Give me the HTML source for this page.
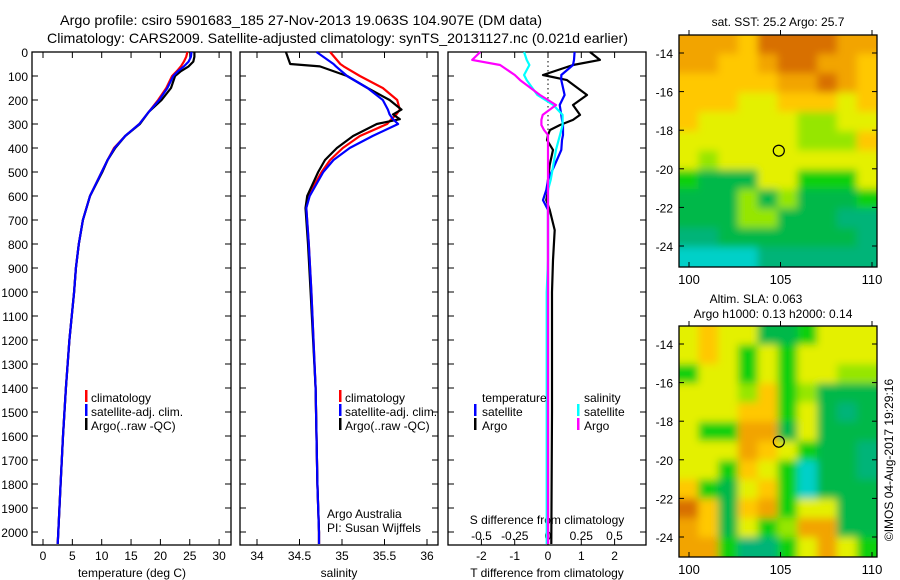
<!DOCTYPE html>
<html><head><meta charset="utf-8"><style>
body{margin:0;background:#fff;}
svg{display:block;font-family:"Liberation Sans",sans-serif;}
text{fill:#000;}
</style></head><body>
<svg id="fig" width="900" height="580" viewBox="0 0 900 580" xmlns="http://www.w3.org/2000/svg">
<defs><filter id="bl" x="-10%" y="-10%" width="120%" height="120%"><feGaussianBlur stdDeviation="4"/></filter>
<clipPath id="c1"><rect x="679" y="35" width="198" height="232"/></clipPath>
<clipPath id="c2"><rect x="679" y="326" width="198" height="231"/></clipPath></defs>
<text x="60" y="25" font-size="14" textLength="482" lengthAdjust="spacingAndGlyphs">Argo profile: csiro 5901683_185 27-Nov-2013 19.063S 104.907E (DM data)</text>
<text x="47" y="43" font-size="14" textLength="581" lengthAdjust="spacingAndGlyphs">Climatology: CARS2009. Satellite-adjusted climatology: synTS_20131127.nc (0.021d earlier)</text>
<g id="g"></g>
</svg>
<script>
// ---- data ----
const pT=[0,20,40,60,80,100,150,200,250,300,350,400,450,500,600,700,800,900,1000,1200,1400,1600,1800,2000,2050];
const tArgo=[25.8,25.8,25.6,24.8,23.5,22.5,21.8,20.2,18.0,16.5,14.0,12.3,11.0,10.1,8.0,6.8,6.1,5.6,5.3,4.5,3.9,3.4,3.0,2.6,2.5];
const tClim=[24.6,24.4,24.0,23.5,22.8,22.0,21.0,19.6,18.0,16.4,14.0,12.1,11.0,10.0,8.0,6.8,6.1,5.6,5.3,4.5,3.9,3.4,3.0,2.6,2.5];
const tSat=[25.3,25.2,24.8,24.0,23.0,22.2,21.2,19.8,18.0,16.4,14.0,12.2,11.0,10.0,8.0,6.8,6.1,5.6,5.3,4.5,3.9,3.4,3.0,2.6,2.5];
const pS=[0,50,60,100,150,200,240,260,280,300,350,400,450,500,600,650,800,1000,1400,1800,2000,2050];
const sArgo=[34.34,34.39,34.74,35.06,35.30,35.56,35.70,35.60,35.68,35.41,35.13,34.94,34.80,34.72,34.59,34.57,34.60,34.63,34.69,34.71,34.73,34.73];
const sClim=[34.86,34.98,35.02,35.21,35.48,35.65,35.68,35.64,35.58,35.53,35.21,35.01,34.86,34.76,34.60,34.58,34.61,34.64,34.69,34.71,34.73,34.73];
const sSat=[34.70,34.90,34.93,35.06,35.30,35.48,35.54,35.56,35.60,35.66,35.36,35.09,34.90,34.78,34.62,34.58,34.61,34.64,34.69,34.71,34.73,34.73];
const pD=[0,33,54,96,117,179,221,262,283,304,325,346,367,408,471,533,575,617,658,742,867,1000,1500,2050];
const dTArgo=[1.26,1.56,0.75,-0.15,0.57,1.17,0.75,0.96,0.75,0.36,0.06,0.0,-0.03,0.15,0.05,0.0,0.0,-0.05,0.05,0.2,0.15,0.12,0.12,0.1];
const dTSat=[0.8,0.78,0.75,0.4,0.4,0.5,0.35,0.4,0.42,0.45,0.45,0.45,0.42,0.4,0.2,0.0,-0.05,-0.15,0.0,0.0,0.0,0.0,0.0,0.0];
const dSArgo=[-0.51,-0.57,-0.36,-0.25,-0.21,-0.06,0.06,-0.04,-0.05,-0.05,-0.03,0.0,0.0,0.0,0.0,0.0,0.0,0.0,0.0,0.0,0.0,0.0,0.0,0.0];
const dSSat=[-0.18,-0.16,-0.14,-0.18,-0.16,-0.08,0.04,0.11,0.11,0.11,0.1,0.09,0.08,0.06,0.04,0.02,0.0,0.0,0.0,0.0,0.0,-0.01,-0.01,-0.01];
const pTicks=[0,100,200,300,400,500,600,700,800,900,1000,1100,1200,1300,1400,1500,1600,1700,1800,1900,2000];
const tTicks=[0,5,10,15,20,25,30];
const sTicks=[34,34.5,35,35.5,36];
const dTTicks=[-2,-1,0,1,2];
const dSTicks=[-0.5,-0.25,0,0.25,0.5];
const latTicks=[-14,-16,-18,-20,-22,-24];
const lonTicks=[100,105,110];
const sstGrid=["oooYOOOOoo","ooYYoOOooY","YYYYYooOoY","YYYyyYYYyY","Yyyyyyllyy","yyyyyylllY","ylyyyyyyyy","gGGGyygggy","GGGlGlGGGg","GGGllGGGtt","ttGGGGGGGt","cccctttttt"];
const slaGrid=["yYyyGGgyyy","yYygygyyyy","gyygygyyll","yyylYglGGG","yyyYYgyGtG","yggooGyGGG","yyyoYygGGt","yygYygcGGt","YgGyYgcGGG","OYGYogyyGG","oYGyglooGG","oogttgyoyg"];
const argoLon=104.907, argoLat=-19.063;
// ---- helpers ----
const NS="http://www.w3.org/2000/svg";
const G=document.getElementById('g');
function mk(tag,at,txt){const e=document.createElementNS(NS,tag);for(const k in at)e.setAttribute(k,at[k]);if(txt!==undefined)e.textContent=txt;G.appendChild(e);return e;}
const Y0=52,Yb=545;
const py=p=>Y0+p*0.24;
const xT=t=>43+t*5.87, xS=s=>257+(s-34)*85, xDT=d=>548+d*33.3, xDS=d=>548+d*133;
function panel(x0,x1,name){
  const r=mk('rect',{x:x0,y:Y0,width:x1-x0,height:Yb-Y0,fill:'none',stroke:'#000','stroke-width':1.3});
  
  
  pTicks.forEach(p=>{const y=py(p);
    const a=mk('line',{x1:x0,x2:x0+6,y1:y,y2:y,stroke:'#000'});
    
    
    const b=mk('line',{x1:x1-6,x2:x1,y1:y,y2:y,stroke:'#000'});
    
    });
}
function xticks(vals,f,labY,name,top){vals.forEach(v=>{const x=f(v);
  const a=mk('line',{x1:x,x2:x,y1:Yb-6,y2:Yb,stroke:'#000'});
  
  
  if(top){const b=mk('line',{x1:x,x2:x,y1:Y0,y2:Y0+6,stroke:'#000'});
    
    }
  const t=mk('text',{x:x,y:labY,'font-size':12,'text-anchor':'middle'},String(v));
  
  });}
function line(ps,vs,f,col,name){const pts=ps.map((p,i)=>f(vs[i]).toFixed(1)+','+py(p).toFixed(1)).join(' ');
  const e=mk('polyline',{points:pts,fill:'none',stroke:col,'stroke-width':2.2,'stroke-linejoin':'round'});
  
  }
function txt(x,y,s,name,sz,anc){const e=mk('text',{x:x,y:y,'font-size':sz||12,'text-anchor':anc||'start'},s);
  
  return e;}
function bar(x,y,col,name){const e=mk('rect',{x:x,y:y-10,width:2.5,height:12,fill:col});
  
  }
// panels
panel(32,231,'temperature-panel');panel(240,438,'salinity-panel');panel(448,646,'difference-panel');
pTicks.forEach(p=>{txt(28,py(p)+5,String(p),'y-tick-label',12,'end');});
xticks(tTicks,xT,560,'temperature-tick-label',true);
xticks(sTicks,xS,560,'salinity-tick-label',true);
xticks(dTTicks,xDT,560,'t-diff-tick-label',true);
dSTicks.forEach(v=>{txt(xDS(v),540,String(v),'s-diff-tick-label',12,'middle');});
txt(132,577,'temperature (deg C)','x-axis-title-temperature',12,'middle');
txt(339,577,'salinity','x-axis-title-salinity',12,'middle');
txt(547,577,'T difference from climatology','x-axis-title-t-diff',12,'middle');
txt(547,524,'S difference from climatology','x-axis-title-s-diff',12,'middle');
const z=mk('line',{x1:548,x2:548,y1:Y0,y2:py(700),stroke:'#000','stroke-dasharray':'1.5,3'});


// series
line(pT,tClim,xT,'#f00','temp-climatology');line(pT,tArgo,xT,'#000','temp-argo');line(pT,tSat,xT,'#00f','temp-satellite');
line(pS,sClim,xS,'#f00','sal-climatology');line(pS,sArgo,xS,'#000','sal-argo');line(pS,sSat,xS,'#00f','sal-satellite');
line(pD,dTArgo,xDT,'#000','t-diff-argo');line(pD,dTSat,xDT,'#00f','t-diff-satellite');
line(pD,dSSat,xDS,'#0ff','s-diff-satellite');line(pD,dSArgo,xDS,'#f0f','s-diff-argo');
// legends
[[85,'temp'],[339,'sal']].forEach(([x,n])=>{
  bar(x,400,'#f00','legend-climatology-swatch');txt(x+6,402,'climatology','legend-climatology');
  bar(x,414,'#00f','legend-satellite-swatch');txt(x+6,416,'satellite-adj. clim.','legend-satellite');
  bar(x,428,'#000','legend-argo-swatch');txt(x+6,430,'Argo(..raw -QC)','legend-argo');});
txt(482,402,'temperature','legend-temperature-header');txt(584,402,'salinity','legend-salinity-header');
bar(474,414,'#00f','legend-t-satellite-swatch');txt(482,416,'satellite','legend-t-satellite');
bar(474,428,'#000','legend-t-argo-swatch');txt(482,430,'Argo','legend-t-argo');
bar(577,414,'#0ff','legend-s-satellite-swatch');txt(584,416,'satellite','legend-s-satellite');
bar(577,428,'#f0f','legend-s-argo-swatch');txt(584,430,'Argo','legend-s-argo');
txt(327,518,'Argo Australia','credit-line-1');txt(327,532,'PI: Susan Wijffels','credit-line-2');
// maps
const pal={O:'#d87000',o:'#f2a400',Y:'#ffc800',y:'#e4f000',l:'#96e600',g:'#10d010',G:'#00b848',t:'#00b478',c:'#00d0c8'};
const mx=lon=>689+(lon-100)*18.3;
function map(grid,top,name,clip){
  const h=top===35?232:231;
  const myl=lat=>top+18+(-14-lat)*19.3;
  const g=document.createElementNS(NS,'g');g.setAttribute('clip-path','url(#'+clip+')');G.appendChild(g);
  const ig=document.createElementNS(NS,'g');ig.setAttribute('filter','url(#bl)');g.appendChild(ig);
  
  
  const cw=198/10,ch=h/12;
  grid.forEach((row,r)=>{[...row].forEach((c,k)=>{const e=document.createElementNS(NS,'rect');
    const x0=679+k*cw-(k===0?12:0), y0=top+r*ch-(r===0?12:0);
    e.setAttribute('x',x0-0.5);e.setAttribute('y',y0-0.5);
    e.setAttribute('width',cw+1+(k===0?12:0)+(k===9?12:0));e.setAttribute('height',ch+1+(r===0?12:0)+(r===11?12:0));
    e.setAttribute('fill',pal[c]);ig.appendChild(e);});});
  const fr=mk('rect',{x:679,y:top,width:198,height:h,fill:'none',stroke:'#000','stroke-width':1.3});
  
  
  latTicks.forEach(l=>{const y=myl(l);
    const a=mk('line',{x1:679,x2:684,y1:y,y2:y,stroke:'#000'});
    
    
    const b=mk('line',{x1:872,x2:877,y1:y,y2:y,stroke:'#000'});
    
    
    txt(673,y+5,String(l),'lat-tick-label',12,'end');});
  lonTicks.forEach(l=>{const x=mx(l);
    const a=mk('line',{x1:x,x2:x,y1:top-5,y2:top,stroke:'#000'});
    
    
    const b=mk('line',{x1:x,x2:x,y1:top+h-5,y2:top+h,stroke:'#000'});
    
    
    txt(x,top+h+17,String(l),'lon-tick-label',13,'middle');});
  const c=mk('circle',{cx:mx(argoLon),cy:myl(argoLat),r:5.5,fill:'none',stroke:'#000','stroke-width':1.2});
  
  
}
map(sstGrid,35,'sst-map','c1');map(slaGrid,326,'sla-map','c2');
txt(778,26,'sat. SST: 25.2  Argo: 25.7','sst-map-title',12,'middle');
txt(756,303,'Altim. SLA: 0.063','sla-map-title-1',12,'middle');
txt(773,318,'Argo h1000: 0.13  h2000: 0.14','sla-map-title-2',12,'middle');
const cp=txt(0,0,'\u00A9IMOS 04-Aug-2017 19:29:16','copyright-timestamp',12,'middle');
cp.setAttribute('transform','translate(893,460) rotate(-90)');
</script>
</body></html>
